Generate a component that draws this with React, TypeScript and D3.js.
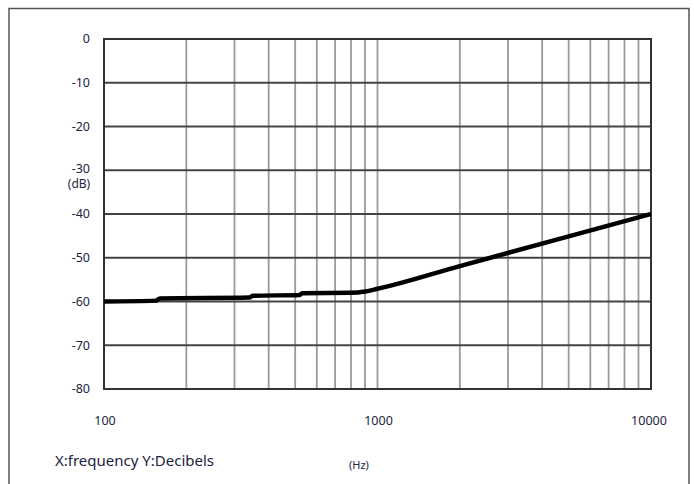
import React from "react";
import * as d3 from "d3";

// frequency response
const freqs = [100, 155, 160, 340, 350, 520, 530, 800, 900, 1000, 2000, 5000, 10000];
const dbs = [-60, -59.8, -59.3, -59.1, -58.7, -58.5, -58.1, -58, -57.7, -57.1, -51.9, -45.1, -40];

const yTicks = [0, -10, -20, -30, -40, -50, -60, -70, -80];
const xTickLabels = [100, 1000, 10000];
const xGrid = [200, 300, 400, 500, 600, 700, 800, 900, 1000, 2000, 3000, 4000, 5000, 6000, 7000, 8000, 9000];

const W = 694, H = 484;
const m = { left: 104, right: 651, top: 39, bottom: 389 };

export default function App() {
  const x = d3.scaleLog().domain([100, 10000]).range([m.left, m.right]);
  const y = d3.scaleLinear().domain([0, -80]).range([m.top, m.bottom]);
  const line = d3.line<number>()
    .x((_, i) => x(freqs[i]))
    .y(d => y(d))
    .curve(d3.curveMonotoneX);

  const font = "'Noto Sans', 'Liberation Sans', sans-serif";

  return (
    <svg width={W} height={H} style={{ position: "absolute", left: 0, top: 0, background: "#fff" }}>
      {/* outer frame, open at the bottom */}
      <path d={`M9,${H} V8.5 H689 V${H}`} fill="none" stroke="#555" strokeWidth={1.5} />

      {xGrid.map(f => (
        <line key={f} x1={x(f)} x2={x(f)} y1={m.top} y2={m.bottom} stroke="#9a9a9a" strokeWidth={1.8} />
      ))}
      {yTicks.map(t => (
        <line key={t} x1={m.left} x2={m.right} y1={y(t)} y2={y(t)} stroke="#444" strokeWidth={1.8} />
      ))}
      <rect x={m.left} y={m.top} width={m.right - m.left} height={m.bottom - m.top}
        fill="none" stroke="#333" strokeWidth={2} />

      <path d={line(dbs) || ""} fill="none" stroke="#000" strokeWidth={4.5} strokeLinejoin="round" />

      {yTicks.map(t => (
        <text key={t} x={90} y={t === -30 ? y(t) - 2 : y(t)} dy="0.35em" textAnchor="end" fontSize={12.5}
          fontFamily={font} fill="#1c2340">{t}</text>
      ))}
      <text x={79} y={y(-30) + 14} dy="0.35em" textAnchor="middle" fontSize={12}
        fontFamily={font} fill="#1c2340">(dB)</text>

      {xTickLabels.map(f => (
        <text key={f} x={f === 10000 ? x(f) - 2 : x(f) + 1} y={421} dy="0.35em" textAnchor="middle" fontSize={12.5}
          fontFamily={font} fill="#1c2340">{f}</text>
      ))}

      <text x={55} y={461} dy="0.35em" fontSize={15} fontFamily={font} fill="#1c2340">X:frequency Y:Decibels</text>
      <text x={349} y={465} dy="0.35em" fontSize={11} fontFamily={font} fill="#1c2340">(Hz)</text>
    </svg>
  );
}
